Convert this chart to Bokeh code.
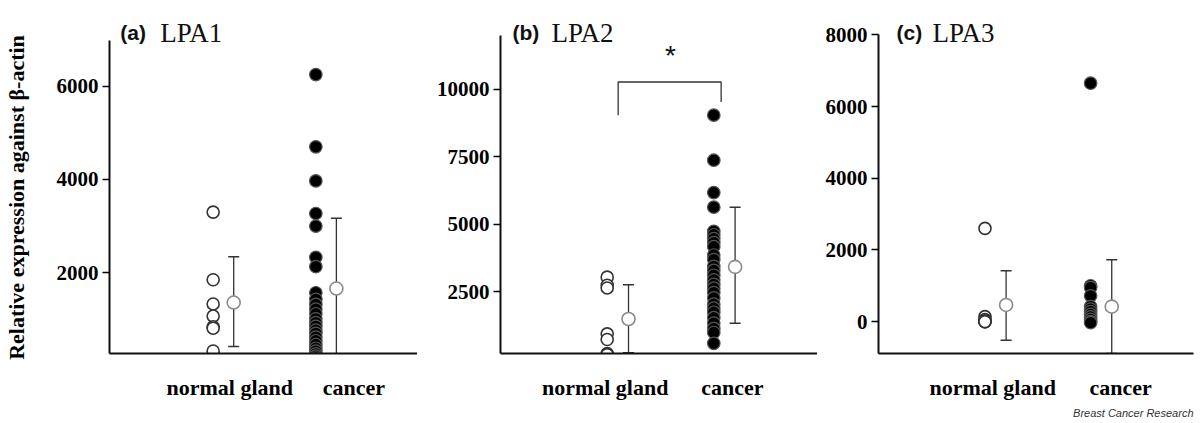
from bokeh.plotting import figure
from bokeh.layouts import row
from bokeh.models import (Range1d, FixedTicker, Label, ColumnDataSource, Whisker,
                          TeeHead, Title)
from bokeh.embed import file_html
from bokeh.resources import INLINE

categories = ["normal gland", "cancer"]
y_title = "Relative expression against \u03b2-actin" + "\u00a0" * 6

# ---- LPA1 ----
lpa1_normal = [3300, 1850, 1330, 1070, 840, 810, 320]
lpa1_cancer = [6250, 4700, 3970, 3270, 3000, 2330, 2130, 1570, 1430, 1320, 1220,
               1120, 1010, 930, 850, 770, 700, 620, 540, 460, 380, 320, 260, 210, 170]
lpa1_mean = [1360, 1660]
lpa1_hi = [2340, 3170]
lpa1_lo = [415, 160]
lpa1_ticks = [2000, 4000, 6000]

# ---- LPA2 ----
lpa2_normal = [3050, 2750, 2650, 950, 740, 220, 180]
lpa2_cancer = [9050, 7380, 6180, 5640, 4750, 4620, 4480, 4330, 4180, 3870, 3700,
               3450, 3300, 3120, 2950, 2780, 2640, 2480, 2280, 2050, 1900, 1750,
               1550, 1350, 1150, 1000, 600]
lpa2_mean = [1500, 3430]
lpa2_hi = [2770, 5640]
lpa2_lo = [250, 1340]
lpa2_ticks = [2500, 5000, 7500, 10000]

# ---- LPA3 ----
lpa3_normal = [2600, 140, 60, 20, 0, 0, 0]
lpa3_cancer = [6650, 1000, 950, 720, 420, 350, 280, 200, 130, 60, 0, -30]
lpa3_mean = [464, 417]
lpa3_hi = [1420, 1725]
lpa3_lo = [-520, -890]
lpa3_ticks = [0, 2000, 4000, 6000, 8000]

SERIF = "Liberation Serif"
SANS = "Liberation Sans"
MEAN_OFFSET = 0.2
H = 421
F_TOP = 8        # frame top (px)
F_BOT = 354      # frame bottom (px)


def make_panel(tag, name, normal, cancer, mean, hi, lo, ticks, yr, ybound, xr,
               label_pos, left, width, bl, br, title_px, ylabel=None):
    p = figure(width=width, height=H, output_backend="svg", toolbar_location=None,
               x_range=Range1d(*xr), y_range=Range1d(*yr),
               min_border_left=bl, min_border_right=br, min_border_top=F_TOP,
               min_border_bottom=H - F_BOT)
    p.outline_line_color = None
    p.xgrid.visible = False
    p.ygrid.visible = False
    p.background_fill_color = "white"

    fl, fr = left + bl, left + width - br

    def xv(px):
        return xr[0] + (px - fl) / (fr - fl) * (xr[1] - xr[0])

    def yv(py):
        return yr[0] + (F_BOT - py) / (F_BOT - F_TOP) * (yr[1] - yr[0])

    # y axis
    ya = p.yaxis[0]
    ya.ticker = FixedTicker(ticks=ticks)
    ya.bounds = ybound
    ya.axis_line_width = 2
    ya.axis_line_color = "#111111"
    ya.major_tick_out = 7
    ya.major_tick_in = 0
    ya.major_tick_line_width = 1.5
    ya.minor_tick_line_color = None
    ya.major_label_text_font = SERIF
    ya.major_label_text_font_style = "bold"
    ya.major_label_text_font_size = "21px"
    ya.major_label_text_color = "black"
    ya.major_label_standoff = 4
    if ylabel:
        ya.axis_label = ylabel
        ya.axis_label_text_font = SERIF
        ya.axis_label_text_font_style = "bold"
        ya.axis_label_text_font_size = "22px"
        ya.axis_label_text_color = "black"
        ya.axis_label_standoff = 25

    # x axis
    xa = p.xaxis[0]
    xa.ticker = FixedTicker(ticks=label_pos)
    xa.major_label_overrides = {label_pos[i]: categories[i] for i in range(2)}
    xa.axis_line_width = 2
    xa.axis_line_color = "#111111"
    xa.major_tick_line_color = None
    xa.minor_tick_line_color = None
    xa.major_label_text_font = SERIF
    xa.major_label_text_font_style = "bold"
    xa.major_label_text_font_size = "22px"
    xa.major_label_text_color = "black"
    xa.major_label_standoff = 15

    # error bars
    src = ColumnDataSource(dict(x=[0 + MEAN_OFFSET, 1 + MEAN_OFFSET], m=mean, hi=hi, lo=lo))
    w = Whisker(base="x", upper="hi", lower="lo", source=src,
                line_color="#333333", line_width=1.3,
                upper_head=TeeHead(size=11, line_color="#333333", line_width=1.5),
                lower_head=TeeHead(size=11, line_color="#333333", line_width=1.5))
    p.add_layout(w)

    # individual samples
    p.scatter([0] * len(normal), normal, size=12, marker="circle",
              fill_color="white", line_color="#333333", line_width=1.6)
    p.scatter([1] * len(cancer), cancer, size=12.5, marker="circle",
              fill_color="black", line_color="#555555", line_width=1.2)
    # means
    p.scatter("x", "m", source=src, size=13, marker="circle",
              fill_color="white", line_color="#8a8a8a", line_width=1.6)

    # panel title
    p.add_layout(Label(x=xv(title_px[0]), y=yv(32), text=tag, text_font=SANS,
                       text_font_style="bold", text_font_size="21px",
                       text_color="#111111", text_baseline="alphabetic"))
    p.add_layout(Label(x=xv(title_px[1]), y=yv(33), text=name, text_font=SERIF,
                       text_font_size="27px", text_color="#111111",
                       text_baseline="alphabetic"))
    return p


pa = make_panel("(a)", "LPA1", lpa1_normal, lpa1_cancer, lpa1_mean, lpa1_hi,
                lpa1_lo, lpa1_ticks, (267, 7668), (267, 6985),
                (-1.0095, 1.99), [0.162, 1.371],
                0, 417, 102, 0, (113, 154), ylabel=y_title)

pb = make_panel("(b)", "LPA2", lpa2_normal, lpa2_cancer, lpa2_mean, lpa2_hi,
                lpa2_lo, lpa2_ticks, (222, 12999), (222, 12000),
                (-1.001, 1.973), [-0.019, 1.175],
                417, 400, 83, 0, (512, 551))

# significance bracket (normal vs cancer)
bracket_x = [0.103, 0.103, 1.069, 1.069]
bracket_y = [9047, 10277, 10277, 9538]
pb.line(bracket_x, bracket_y, line_color="#333333", line_width=1.3)
pb.add_layout(Label(x=0.594, y=11250, text="*", text_font=SANS,
                    text_font_size="28px", text_align="center",
                    text_baseline="middle", text_color="#111111"))

pc = make_panel("(c)", "LPA3", lpa3_normal, lpa3_cancer, lpa3_mean, lpa3_hi,
                lpa3_lo, lpa3_ticks, (-890, 8734), (-890, 8000),
                (-1.008, 1.974), [0.073, 1.284],
                817, 381, 61, 5, (896, 932))

pc.add_layout(Title(text="Breast Cancer Research", align="right",
                    text_font=SANS, text_font_style="italic",
                    text_font_size="11px", text_color="#333333", standoff=5),
              "below")

layout = row(pa, pb, pc)
open("out.html", "w").write(file_html(layout, INLINE))
